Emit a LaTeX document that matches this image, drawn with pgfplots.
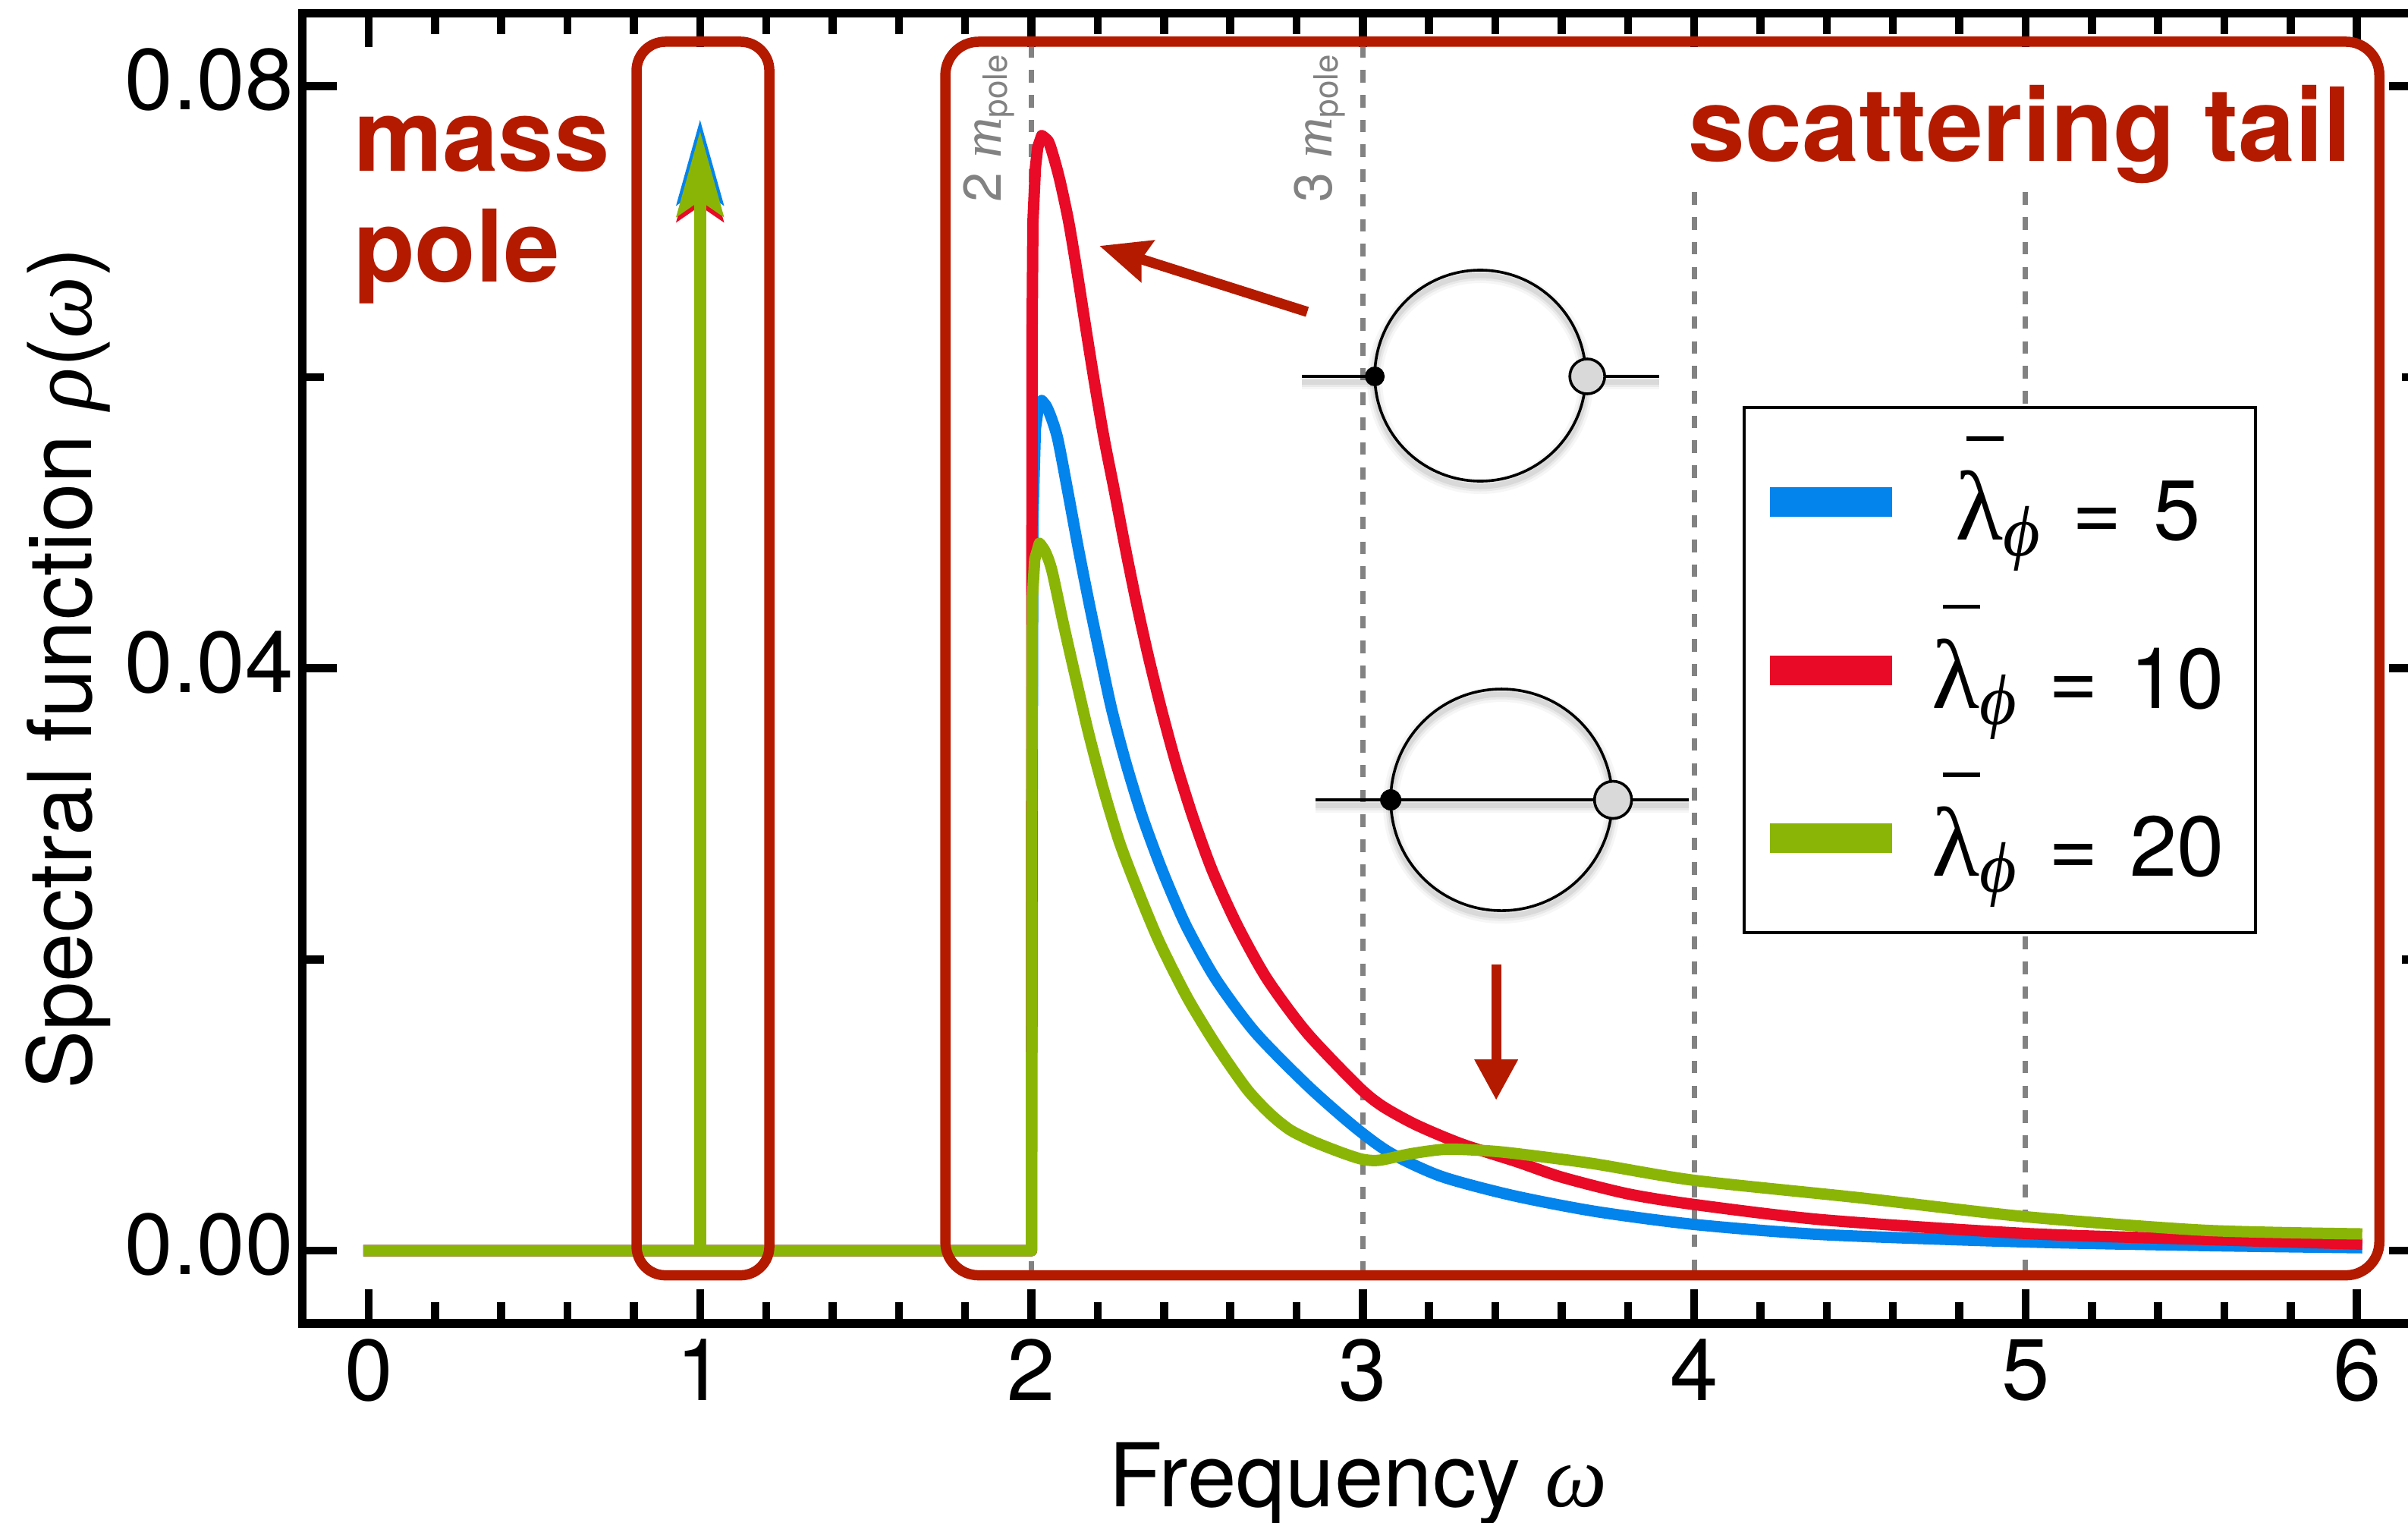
\documentclass[border=0pt]{standalone}
\usepackage{fontspec}
\setmainfont{TeX Gyre Heros}
\newfontfamily\ser{Liberation Serif}
\usepackage{pgfplots}
\pgfplotsset{compat=1.18}
\usetikzlibrary{arrows.meta}
\definecolor{cblue}{HTML}{0383EC}
\definecolor{cred}{HTML}{E80A26}
\definecolor{cgreen}{HTML}{8AB506}
\definecolor{cframe}{HTML}{B41A00}
\definecolor{cdash}{HTML}{828282}
\newcommand{\gk}[1]{{\ser\itshape #1}}
\newcommand{\legtext}[2]{\makebox[40pt][c]{\fontsize{11.2}{13}\selectfont\rule[-6.08pt]{0pt}{22.15pt}\rlap{\hspace{#2}\raisebox{13.1pt}{\rule{4.9pt}{0.55pt}}}{\fontsize{13}{14}\ser λ}\raisebox{-2.1pt}{\fontsize{9.4}{10}\ser\itshape ϕ}\hspace{4.2pt}=\hspace{4.2pt}#1}}
\newcommand{\shadowed}[1]{%
  \begin{scope}[yshift=-0.7pt,draw=black,fill=none]
    \begin{scope}[opacity=0.035,line width=2.0pt]#1\end{scope}
    \begin{scope}[opacity=0.05,line width=1.3pt]#1\end{scope}
    \begin{scope}[opacity=0.07,line width=0.7pt]#1\end{scope}
  \end{scope}}
\begin{document}
\begin{tikzpicture}
\useasboundingbox (-39.86pt,-26.2pt) rectangle (277.54pt,174.4pt);
\begin{axis}[
  at={(0pt,0pt)},anchor=south west,
  scale only axis,width=279.55pt,height=172.66pt,
  xmin=-0.2,xmax=6.2,ymin=-0.005,ymax=0.085,
  clip=false,
  axis line style={line width=1.15pt},
  /pgf/number format/assume math mode=true,
  xtick={0,1,2,3,4,5,6},minor x tick num=4,
  ytick={0,0.04,0.08},minor y tick num=1,
  scaled y ticks=false,
  tick align=inside,
  xticklabel pos=lower,yticklabel pos=left,
  major tick length=4.5pt,minor tick length=2.8pt,
  every tick/.style={black,line width=1.05pt},
  tick label style={font=\fontsize{11.4}{13}\selectfont,inner sep=0pt},
  xticklabel style={yshift=-1.9pt},
  yticklabel style={xshift=-1.0pt,yshift=0.8pt,/pgf/number format/fixed,/pgf/number format/fixed zerofill,/pgf/number format/precision=2},
  every axis x label/.style={at={(axis cs:2.985,-0.005)},anchor=base,yshift=-24.1pt,font=\fontsize{11.6}{14}\selectfont},
  every axis y label/.style={at={(axis cs:-0.2,0.04)},anchor=base,rotate=90,yshift=27.8pt,font=\fontsize{11.6}{14}\selectfont},
  xlabel={Frequency \gk{ω}},
  ylabel={Spectral function \gk{ρ}(\gk{ω})},
  legend image code/.code={\fill[#1,draw=none] (0pt,-1.95pt) rectangle (16.1pt,1.95pt);},
  legend style={at={(axis cs:4.146,0.058)},anchor=north west,draw=black,line width=0.4pt,fill=white,
    inner xsep=3.4pt,inner ysep=1.375pt,row sep=0pt,column sep=4.55pt,
    nodes={inner sep=0pt,outer sep=0pt,text depth=}},
  legend cell align=center,
  curve/.style={line width=1.5pt,line cap=butt,line join=round},
  tail/.style={line width=1.5pt,line cap=butt,line join=round,smooth,tension=0.45},
]
% threshold guide lines
\addplot[forget plot,cdash,line width=0.7pt,dash pattern=on 1.65pt off 1.62pt] coordinates {(2,0.0828) (2,-0.0022)};
\addplot[forget plot,cdash,line width=0.7pt,dash pattern=on 1.65pt off 1.62pt] coordinates {(3,0.0828) (3,-0.0022)};
\addplot[forget plot,cdash,line width=0.7pt,dash pattern=on 1.65pt off 1.62pt] coordinates {(4,0.0727) (4,-0.0022)};
\addplot[forget plot,cdash,line width=0.7pt,dash pattern=on 1.65pt off 1.62pt] coordinates {(5,0.0727) (5,-0.0022)};
% blue
\addplot[forget plot,curve,cblue] coordinates {
(-0.016,0) (2,0) (2.002,0.03) (2.004,0.05) (2.012,0.0565) (2.022,0.0581) (2.031,0.0584) (2.045,0.058)};
\addplot[tail,cblue] coordinates {
(2.031,0.0584) (2.045,0.058) (2.06,0.0572) (2.08,0.0557) (2.111,0.052) (2.141,0.0483) (2.173,0.0446) (2.207,0.0409)
(2.242,0.0372) (2.285,0.0335) (2.335,0.0298) (2.395,0.0261) (2.465,0.0224) (2.555,0.0187)
(2.675,0.015) (2.835,0.0113) (2.975,0.0085) (3.084,0.0067) (3.237,0.0051) (3.45,0.0038)
(3.7,0.0027) (4,0.0018) (4.39,0.0011) (5,0.0006) (5.54,0.00035) (6.016,0.0002)};
\addlegendentry{\legtext{5}{1.4pt}}
% red
\addplot[forget plot,curve,cred] coordinates {
(-0.016,0) (2,0) (2.001,0.03) (2.002,0.0631) (2.0044,0.0706) (2.012,0.0744) (2.019,0.0758) (2.031,0.0766) (2.051,0.0762)};
\addplot[tail,cred] coordinates {
(2.031,0.0766) (2.051,0.0762) (2.066,0.0752) (2.086,0.0735) (2.113,0.0706) (2.140,0.0669) (2.166,0.0631)
(2.192,0.0594) (2.220,0.0557) (2.252,0.052) (2.283,0.0483) (2.316,0.0446) (2.352,0.0409)
(2.392,0.0372) (2.436,0.0335) (2.487,0.0298) (2.546,0.0261) (2.62,0.0224) (2.71,0.0187)
(2.83,0.015) (2.985,0.0113) (3.058,0.00994) (3.161,0.00864) (3.298,0.00733) (3.466,0.0061)
(3.6,0.00505) (3.8,0.0039) (4,0.00317) (4.388,0.00212) (5,0.00118) (5.54,0.00077) (6.016,0.00045)};
\addlegendentry{\legtext{10}{1.4pt}}
% green
\addplot[forget plot,curve,cgreen] coordinates {
(-0.016,0) (2,0) (2.001,0.03) (2.003,0.0449) (2.01,0.0475) (2.024,0.0486) (2.042,0.048)};
\addplot[tail,cgreen] coordinates {
(2.024,0.0486) (2.042,0.048) (2.062,0.0467) (2.097,0.043) (2.134,0.0393) (2.173,0.0355) (2.216,0.0318)
(2.265,0.0281) (2.32,0.0248) (2.386,0.0212) (2.47,0.0174) (2.558,0.0141) (2.65,0.0111) (2.72,0.0094) (2.78,0.0083)
(2.85,0.0075) (2.94,0.0067) (3,0.00627) (3.05,0.00621) (3.146,0.00666) (3.253,0.00697) (3.375,0.00686)
(3.466,0.00666) (3.695,0.00598) (4,0.00483) (4.5,0.00363) (5,0.00233) (5.54,0.0014) (6.016,0.00115)};
\addlegendentry{\legtext{20}{1.4pt}}
% mass pole
\addplot[forget plot,cblue,line width=1.6pt,-{Stealth[length=11.2pt,width=6.1pt,inset=2pt]}] coordinates {(1,0) (1,0.07771)};
\addplot[forget plot,cred,line width=1.6pt,-{Stealth[length=11.2pt,width=6.1pt,inset=2pt]}] coordinates {(1,0) (1,0.07656)};
\addplot[forget plot,cgreen,line width=1.6pt,-{Stealth[length=11.2pt,width=6.1pt,inset=2pt]}] coordinates {(1,0) (1,0.07692)};
\end{axis}
\begin{scope}[shift={(-39.86pt,174.4pt)},x=0.1pt,y=-0.1pt]
  % frames
  \draw[cframe,line width=1.35pt,rounded corners=3.8pt] (839,55) rectangle (1014,1680.5);
  \draw[cframe,line width=1.35pt,rounded corners=4.4pt] (1246,55) rectangle (3136,1680.5);
  % red text
  \node[cframe,anchor=base west,inner sep=0pt,font=\fontsize{13.2}{15}\selectfont\bfseries] at (464,226) {mass};
  \node[cframe,anchor=base west,inner sep=0pt,font=\fontsize{13.2}{15}\selectfont\bfseries] at (464,372) {pole};
  \node[cframe,anchor=base east,inner sep=0pt,font=\fontsize{13.45}{16}\selectfont\bfseries] at (3102,213) {scattering tail};
  % threshold labels
  \node[cdash,rotate=90,anchor=base west,inner sep=0pt,font=\fontsize{7}{8}\selectfont] at (1319,269) {2 {\fontsize{7.4}{8}\ser\itshape m}\raisebox{-0.8pt}{\fontsize{4.4}{6}\selectfont pole}};
  \node[cdash,rotate=90,anchor=base west,inner sep=0pt,font=\fontsize{7}{8}\selectfont] at (1755,269) {3 {\fontsize{7.4}{8}\ser\itshape m}\raisebox{-0.8pt}{\fontsize{4.4}{6}\selectfont pole}};
  % arrows
  \draw[cframe,line width=1.35pt,-{Stealth[length=6.6pt,width=5.6pt,inset=0.8pt]}] (1723,411) -- (1449,324);
  \draw[cframe,line width=1.3pt,-{Stealth[length=5.4pt,width=5.4pt,inset=0pt]}] (1972,1271) -- (1972,1450);
  % diagram 1
  \shadowed{\draw (1951,495) circle (139); \draw (1716,496) -- (1812,496); \draw (2092,496) -- (2187,496);}
  \draw[black,line width=0.36pt] (1951,495) circle (139);
  \draw[black,line width=0.36pt] (1716,496) -- (1812,496);
  \draw[black,line width=0.36pt] (2092,496) -- (2187,496);
  \fill[black] (1812,496) circle (13);
  \draw[black,fill=black!15,line width=0.36pt] (2092,496) circle (23);
  % diagram 2
  \shadowed{\draw (1979,1054) circle (146); \draw (1734,1054) -- (2226,1054);}
  \draw[black,line width=0.36pt] (1979,1054) circle (146);
  \draw[black,line width=0.36pt] (1734,1054) -- (2226,1054);
  \fill[black] (1833,1054) circle (14);
  \draw[black,fill=black!15,line width=0.36pt] (2126,1054) circle (24.5);
\end{scope}
\end{tikzpicture}
\end{document}
